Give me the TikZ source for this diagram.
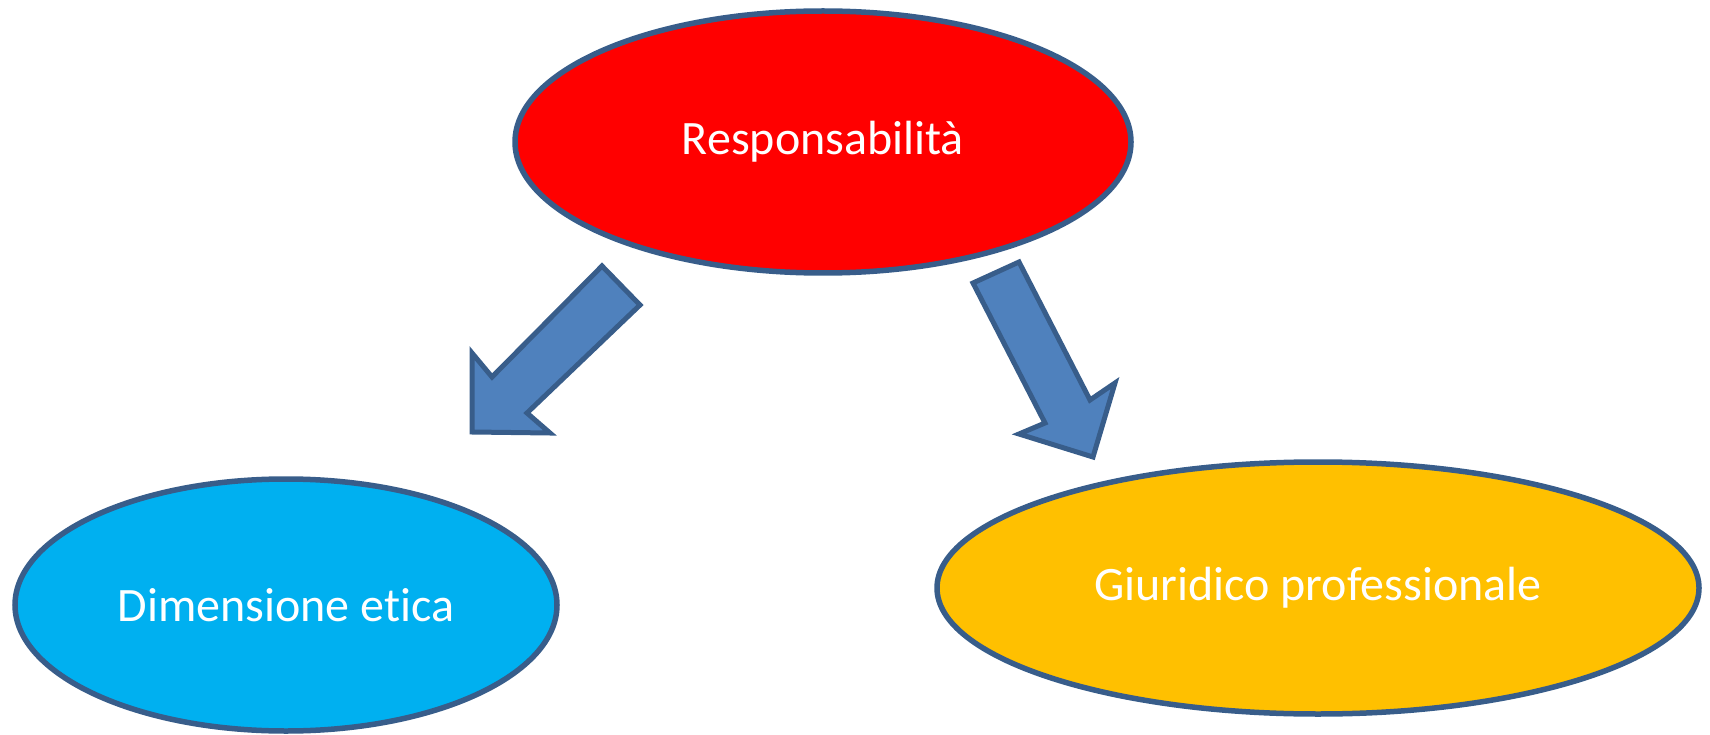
\documentclass[tikz,border=0pt]{standalone}
\usepackage{fontspec}
\setmainfont[Ligatures=NoCommon]{Carlito}
\usetikzlibrary{shapes.geometric}
\definecolor{outl}{HTML}{385D8A}
\definecolor{arrfill}{HTML}{4F81BD}
\definecolor{cred}{HTML}{FF0000}
\definecolor{cblue}{HTML}{00B0F0}
\definecolor{cyell}{HTML}{FFC000}
\tikzset{
  oval/.style={ellipse, draw=outl, line width=5.5pt, text=white, inner sep=0pt,
    font=\fontsize{48}{56}\selectfont},
  blockarrow/.style={draw=outl, fill=arrfill, line width=5pt, line join=miter}
}
\begin{document}
\begin{tikzpicture}[x=1pt,y=-1pt]
\useasboundingbox (0,0) rectangle (1710,735);
\node[oval, fill=cred, minimum width=616pt, minimum height=262pt] (resp) at (823,142) {Responsabilità};
\node[oval, fill=cblue, minimum width=542pt, minimum height=252pt] (etica) at (286,605) {Dimensione etica};
\node[oval, fill=cyell, minimum width=762pt, minimum height=252pt] (giur) at (1318,588) {Giuridico professionale};
% left block arrow
\draw[blockarrow] (602,266) -- (640,305) -- (527,413) -- (550,433) -- (472,432) -- (472,353) -- (492,377) -- cycle;
% right block arrow
\draw[blockarrow] (973,283) -- (1019,262) -- (1090,400) -- (1115,383) -- (1093,457) -- (1019,434) -- (1045,423) -- cycle;
\end{tikzpicture}
\end{document}
